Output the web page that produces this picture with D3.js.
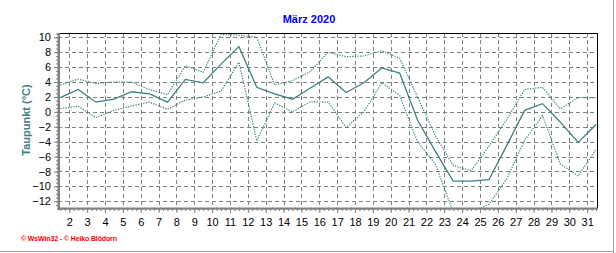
<!DOCTYPE html>
<html lang="de">

<head>
    <meta charset="UTF-8">
    <title>Taupunkt März 2020</title>
    <script src="https://d3js.org/d3.v7.min.js"></script>
    <style>
        body { margin: 0; background: #fff; }
        svg { display: block; font-family: "Liberation Sans", Arial, sans-serif; }
    </style>
</head>

<body>
    <svg id="chart" width="616" height="253"></svg>

    <script>
        // daily values, March 2020 (point sits at noon of each day)
        var days = [1, 2, 3, 4, 5, 6, 7, 8, 9, 10, 11, 12, 13, 14, 15, 16, 17, 18, 19, 20, 21, 22, 23, 24, 25, 26, 27, 28, 29, 30, 31];
        var dewMax = [3.6, 4.4, 3.8, 4.0, 4.0, 3.0, 2.3, 6.2, 5.3, 10.4, 10.3, 10.0, 3.6, 4.2, 5.4, 8.0, 7.4, 7.5, 8.2, 7.2, 2.0, -3.2, -7.2, -7.9, -4.6, -1.0, 3.0, 3.3, 0.4, 1.9, 1.9];
        var dewMean = [1.9, 3.0, 1.3, 1.7, 2.7, 2.4, 1.3, 4.35, 3.9, 6.4, 8.75, 3.3, 2.4, 1.7, 3.2, 4.7, 2.6, 3.9, 5.9, 5.2, -1.1, -5.3, -9.3, -9.3, -9.1, -4.5, 0.2, 1.1, -1.4, -4.1, -1.7];
        var dewMin = [0.45, 0.75, -0.75, 0.2, 0.8, 1.3, 0.35, 1.6, 2.0, 2.8, 6.65, -3.9, 1.2, 0.0, 1.35, 1.3, -2.1, 0.0, 3.9, 2.2, -4.0, -7.0, -13.5, -13.5, -12.4, -9.0, -3.8, -0.5, -7.0, -8.6, -5.0];

        var dayTicks = [2, 3, 4, 5, 6, 7, 8, 9, 10, 11, 12, 13, 14, 15, 16, 17, 18, 19, 20, 21, 22, 23, 24, 25, 26, 27, 28, 29, 30, 31];
        var yTicks = [-12, -10, -8, -6, -4, -2, 0, 2, 4, 6, 8, 10];

        var svg = d3.select("#chart"),
            plot = { left: 58, right: 597, top: 33, bottom: 208 },
            teal = "#3d8080",
            gridColor = "#808080";

        var x = d3.scaleLinear().domain([1.37, 31.55]).range([plot.left, plot.right]);
        var y = d3.scaleLinear().domain([-12.9, 10.58]).range([plot.bottom, plot.top]);

        // outer frame (right / bottom)
        svg.append("line").attr("x1", 613.5).attr("x2", 613.5).attr("y1", 0).attr("y2", 253)
            .attr("stroke", "#a0a0a0");
        svg.append("line").attr("x1", 0).attr("x2", 614).attr("y1", 251.5).attr("y2", 251.5)
            .attr("stroke", "#a0a0a0");

        // title
        svg.append("text")
            .attr("x", 309).attr("y", 22.5)
            .attr("text-anchor", "middle")
            .attr("font-size", 11).attr("font-weight", "bold")
            .attr("fill", "#0000ff")
            .text("März 2020");

        // grid
        var grid = svg.append("g").attr("stroke", gridColor).attr("stroke-dasharray", "4,3")
            .attr("shape-rendering", "crispEdges");
        grid.selectAll(".hg").data(yTicks).enter().append("line")
            .attr("x1", plot.left).attr("x2", plot.right)
            .attr("y1", function (d) { return Math.round(y(d)) + 0.5; })
            .attr("y2", function (d) { return Math.round(y(d)) + 0.5; });
        grid.selectAll(".vg").data(dayTicks).enter().append("line")
            .attr("y1", plot.top).attr("y2", plot.bottom)
            .attr("x1", function (d) { return Math.round(x(d)) + 0.5; })
            .attr("x2", function (d) { return Math.round(x(d)) + 0.5; });

        // top + right border
        svg.append("path")
            .attr("d", "M" + plot.left + "," + (plot.top + 0.5) + "H" + (plot.right + 0.5) + "V" + plot.bottom)
            .attr("fill", "none").attr("stroke", "#000").attr("stroke-width", 1.5)
            .attr("shape-rendering", "crispEdges");

        // series
        svg.append("clipPath").attr("id", "clip").append("rect")
            .attr("x", plot.left).attr("y", plot.top)
            .attr("width", plot.right - plot.left + 1).attr("height", plot.bottom - plot.top);

        function seriesLine(vals) {
            return d3.line()
                .x(function (d, i) { return x(days[i] + 0.5); })
                .y(function (d) { return y(d); })(vals);
        }

        var lines = svg.append("g").attr("clip-path", "url(#clip)").attr("fill", "none").attr("stroke", teal);
        lines.append("path").attr("d", seriesLine(dewMax)).attr("stroke-dasharray", "1.3,1.3").attr("stroke-width", 1.2);
        lines.append("path").attr("d", seriesLine(dewMin)).attr("stroke-dasharray", "1.3,1.3").attr("stroke-width", 1.2);
        lines.append("path").attr("d", seriesLine(dewMean)).attr("stroke-width", 1.3);

        // y axis
        var yMinor = svg.append("g")
            .attr("transform", "translate(" + plot.left + ",0)")
            .call(d3.axisLeft(y).tickValues(d3.range(-12.5, 10.6, 0.5)).tickSize(2).tickFormat(""));
        var yAxis = svg.append("g")
            .attr("transform", "translate(" + plot.left + ",0)")
            .call(d3.axisLeft(y).tickValues(yTicks).tickSize(4).tickPadding(3));
        [yMinor, yAxis].forEach(function (g) {
            g.select(".domain").remove();
            g.selectAll("line").attr("stroke", gridColor);
        });
        yAxis.selectAll("text").attr("font-size", 11).attr("fill", "#000")
            .attr("font-family", "Liberation Sans, Arial, sans-serif");

        // x axis
        var xMinor = svg.append("g")
            .attr("transform", "translate(0," + (plot.bottom + 1) + ")")
            .call(d3.axisBottom(x).tickValues(d3.range(1.5, 31.6, 0.25)).tickSize(2).tickFormat(""));
        var xAxis = svg.append("g")
            .attr("transform", "translate(0," + (plot.bottom + 1) + ")")
            .call(d3.axisBottom(x).tickValues(dayTicks).tickSize(4).tickPadding(5));
        [xMinor, xAxis].forEach(function (g) {
            g.select(".domain").remove();
            g.selectAll("line").attr("stroke", gridColor);
        });
        xAxis.selectAll("text").attr("font-size", 11).attr("fill", "#000")
            .attr("font-family", "Liberation Sans, Arial, sans-serif");

        // thick gray axis lines
        svg.append("rect").attr("x", plot.left - 0.5).attr("y", plot.top).attr("width", 2.5)
            .attr("height", plot.bottom - plot.top + 2).attr("fill", gridColor);
        svg.append("rect").attr("x", plot.left - 0.5).attr("y", plot.bottom - 0.5).attr("width", plot.right - plot.left + 1.5)
            .attr("height", 2.2).attr("fill", gridColor);

        // y axis title
        svg.append("text")
            .attr("transform", "translate(30,120) rotate(-90)")
            .attr("text-anchor", "middle")
            .attr("font-size", 11).attr("font-weight", "bold")
            .attr("fill", teal)
            .text("Taupunkt  (°C)");

        // footer
        svg.append("text")
            .attr("x", 21).attr("y", 241)
            .attr("font-size", 7).attr("font-weight", "bold")
            .attr("fill", "#ff0000")
            .attr("textLength", 96)
            .text("© WsWin32  -  © Heiko Blödorn");
    </script>
</body>

</html>
